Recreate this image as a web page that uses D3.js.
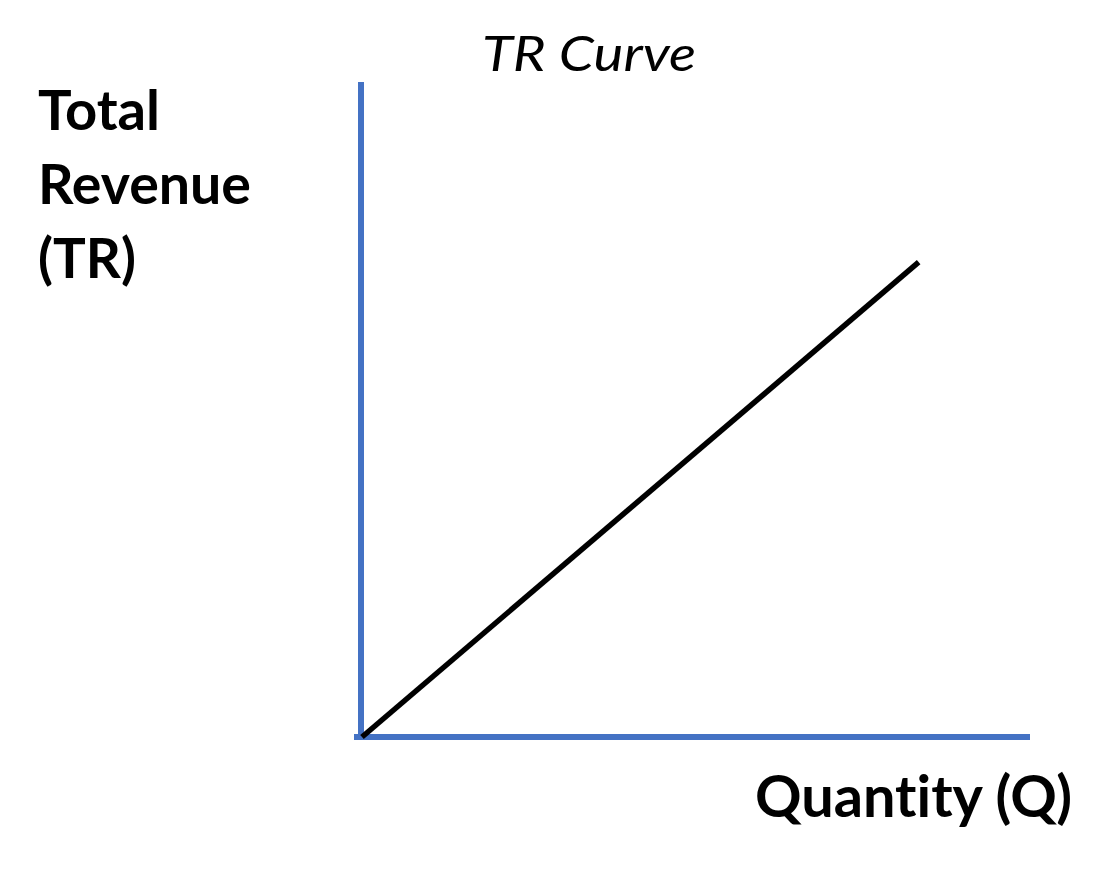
<!DOCTYPE html>
<html><head><meta charset="utf-8">
<script src="https://cdn.jsdelivr.net/npm/d3@7"></script>
<style>html,body{margin:0;padding:0;background:#fff;}svg{display:block;}text{font-variant-ligatures:none;font-feature-settings:"liga" 0;}</style>
</head><body>
<svg id="c" width="1115" height="869"></svg>
<script>
const title = "TR Curve";
const yLabelLines = ["Total", "Revenue", "(TR)"];
const xLabel = "Quantity (Q)";
const quantity = [0, 10];
const totalRevenue = [0, 8.7];

const svg = d3.select("#c");
const font = "Lato, 'Open Sans', sans-serif";
const x = d3.scaleLinear().domain([0, 12]).range([362, 1030]);
const y = d3.scaleLinear().domain([0, 12]).range([737, 82]);

// axes
svg.append("line").attr("x1", 361).attr("x2", 361).attr("y1", y(12)).attr("y2", 740)
  .attr("stroke", "#4472C4").attr("stroke-width", 6);
svg.append("line").attr("x1", 354).attr("x2", x(12)).attr("y1", y(0)).attr("y2", y(0))
  .attr("stroke", "#4472C4").attr("stroke-width", 6);

// TR line
const pts = quantity.map((q, i) => [q, totalRevenue[i]]);
svg.append("path").datum(pts)
  .attr("d", d3.line().x(d => x(d[0])).y(d => y(d[1])))
  .attr("fill", "none").attr("stroke", "#000").attr("stroke-width", 5.5);

// title
svg.append("text").attr("x", 482).attr("y", 71).text(title)
  .attr("font-family", font).attr("font-style", "italic").attr("font-size", 49)
  .attr("textLength", 214).attr("lengthAdjust", "spacingAndGlyphs");

// y label
const yl = svg.append("text").attr("font-family", font).attr("font-weight", "bold").attr("font-size", 55);
const ylWidths = [122, 213, 98];
yLabelLines.forEach((t, i) => {
  yl.append("tspan").attr("x", 38).attr("y", 130 + i * 74).text(t)
    .attr("textLength", ylWidths[i]).attr("lengthAdjust", "spacingAndGlyphs");
});

// x label
svg.append("text").attr("x", 755).attr("y", 817).text(xLabel)
  .attr("font-family", font).attr("font-weight", "bold").attr("font-size", 57)
  .attr("textLength", 317).attr("lengthAdjust", "spacingAndGlyphs");
</script>
</body></html>
